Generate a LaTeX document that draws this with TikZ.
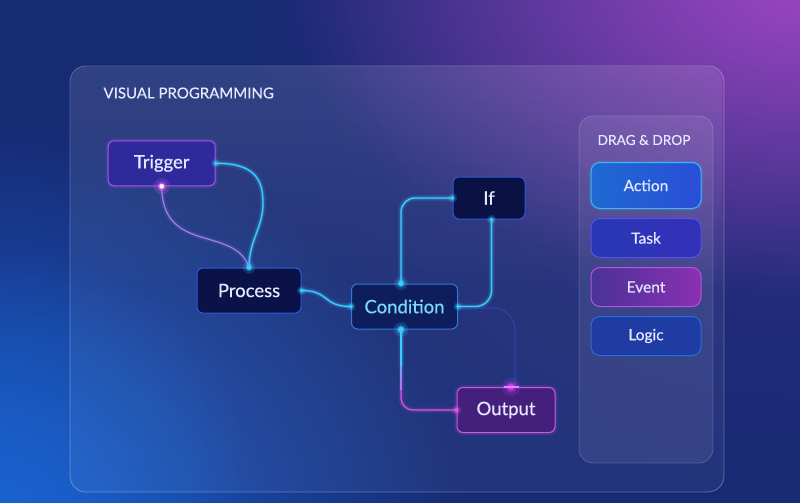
\documentclass[tikz,border=0pt]{standalone}
\usepackage{fontspec}
\setmainfont{Lato}
\newfontfamily\lblfont[FakeBold=0.5]{Lato}
\newfontfamily\sidefont[FakeBold=0.35]{Lato}
\usetikzlibrary{calc,fadings}
\tikzfading[name=glowfade, inner color=transparent!0, outer color=transparent!100]
\tikzfading[name=topfade, top color=transparent!0, bottom color=transparent!100]
\definecolor{bgbase}{HTML}{172A74}
\definecolor{bgpurple}{HTML}{A046C4}
\definecolor{bgblue}{HTML}{1A64D2}
\definecolor{cy}{HTML}{3CCBFF}
\definecolor{cyt}{HTML}{78D8FF}
\definecolor{lav}{HTML}{A47CF0}
\definecolor{mag}{HTML}{E052EA}
\definecolor{magglow}{HTML}{E060F0}
\definecolor{magglow2}{HTML}{C040F0}
\definecolor{maghl}{HTML}{F080FF}
\definecolor{txt}{HTML}{E6E8FF}
\definecolor{faintc}{HTML}{3448C0}
\definecolor{actl}{HTML}{1E6AD2}\definecolor{actr}{HTML}{2A4ED8}\definecolor{actd}{HTML}{38BAF2}
\definecolor{taskl}{HTML}{2838B4}\definecolor{taskr}{HTML}{3430B8}\definecolor{taskd}{HTML}{5A52E6}
\definecolor{evl}{HTML}{4A3298}\definecolor{evr}{HTML}{8A30B2}\definecolor{evd}{HTML}{B456D8}
\definecolor{logf}{HTML}{1E3CA2}\definecolor{logd}{HTML}{2A6CE0}
\definecolor{trf}{HTML}{2E2A9C}\definecolor{trd}{HTML}{A058EA}
\definecolor{prf}{HTML}{0A1248}\definecolor{prd}{HTML}{2F5BD8}
\definecolor{cof}{HTML}{0E1D5C}\definecolor{cod}{HTML}{2E7AD8}
\definecolor{iff}{HTML}{0A1244}\definecolor{ifd}{HTML}{2E5AD0}
\definecolor{ouf}{HTML}{44207C}\definecolor{oud}{HTML}{D454E6}
\tikzset{
  box/.style={rectangle, rounded corners=6pt, minimum height=45pt, inner sep=0pt,
    text=txt, font=\lblfont\fontsize{18.5}{20}\selectfont, line width=1pt},
  side/.style={rectangle, rounded corners=9pt, minimum width=110pt, minimum height=39pt,
    inner sep=0pt, text=txt, font=\sidefont\fontsize{15.5}{17}\selectfont, line width=1pt},
  cline/.style={draw=cy, line width=1.3pt,
    preaction={draw=cy, line width=6pt, draw opacity=0.12},
    preaction={draw=cy, line width=3pt, draw opacity=0.25}},
  lline/.style={draw=lav, line width=1.2pt,
    preaction={draw=lav, line width=5pt, draw opacity=0.12}},
  mline/.style={draw=mag, line width=1.2pt,
    preaction={draw=mag, line width=5pt, draw opacity=0.15}},
  fline/.style={draw=faintc, line width=1pt, draw opacity=0.75},
}
\newcommand\glowdot[3]{%
  \fill[#1, opacity=0.18] (#3) circle (#2*2.6);
  \fill[#1, opacity=0.35] (#3) circle (#2*1.6);
  \fill[#1] (#3) circle (#2);}
\begin{document}
\begin{tikzpicture}[x=1pt,y=-1pt]
\useasboundingbox (0,0) rectangle (800,503);
\clip (0,0) rectangle (800,503);
% background
\fill[bgbase] (0,0) rectangle (800,503);
\fill[bgpurple, opacity=0.2, path fading=glowfade] (800,-60) circle (560);
\fill[bgpurple, path fading=glowfade] (820,-20) ellipse (540 and 320);
\fill[bgblue, path fading=glowfade] (-30,540) ellipse (500 and 420);
\fill[bgblue, opacity=0.7, path fading=glowfade] (0,503) circle (260);
% main panel
\node[rectangle, rounded corners=16pt, minimum width=654pt, minimum height=426pt,
  fill=white, fill opacity=0.05, draw=white, draw opacity=0.3, line width=0.8pt]
  (panel) at (397,279) {};
\fill[white, opacity=0.07, path fading=topfade, rounded corners=16pt] (71,67) rectangle (723,300);
\node[anchor=west, text=txt, font=\sidefont\fontsize{15}{17}\selectfont] (title) at (100,93) {VISUAL PROGRAMMING};
% side panel
\node[rectangle, rounded corners=14pt, minimum width=134pt, minimum height=347pt,
  fill=white, fill opacity=0.08, draw=white, draw opacity=0.18, line width=0.8pt]
  (sidepanel) at (646,289.5) {};
\node[text=txt, font=\sidefont\fontsize{13.7}{15}\selectfont] (dd) at (644,140) {DRAG \& DROP};
\node[side, minimum height=46pt, left color=actl, right color=actr, draw=actd,
  preaction={draw=actd, line width=4pt, draw opacity=0.15}] (action) at (646,185.5) {Action};
\node[side, left color=taskl, right color=taskr, draw=taskd] (task) at (646,238) {Task};
\node[side, left color=evl, right color=evr, draw=evd] (event) at (646,287) {Event};
\node[side, fill=logf, draw=logd] (logic) at (646,336) {Logic};
% flow nodes
\node[box, minimum width=107pt, fill=trf, draw=trd,
  preaction={draw=trd, line width=5pt, draw opacity=0.15}] (trigger) at (161.7,163.3) {Trigger};
\node[box, minimum width=104pt, fill=prf, draw=prd] (process) at (249,290.5) {Process};
\node[box, minimum width=106pt, fill=cof, draw=cod, text=cyt] (condition) at (404.5,306.5) {Condition};
\node[box, minimum width=72pt, minimum height=42pt, fill=iff, draw=ifd] (if) at (489,198) {If};
\node[box, minimum width=98pt, fill=ouf, draw=oud,
  preaction={draw=oud, line width=5pt, draw opacity=0.15}] (output) at (506,410) {Output};
% connectors
\coordinate (tr1) at (263,203);
\draw[cline] (trigger.east) .. controls (255,163) and (263,180) .. (tr1)
  .. controls (263,228) and (249,240) .. (process.north);
\draw[lline] (trigger.south) .. controls (162,255) and (235,225) .. (process.north);
\draw[cline] (process.east) .. controls (330,290.5) and (322,306.5) .. (condition.west);
\draw[cline, rounded corners=14pt] ($(condition.north)+(-3.5,0)$) |- (if.west);
\draw[cline, rounded corners=16pt] ($(if.south)+(2.5,0)$) |- (condition.east);
\draw[fline, rounded corners=22pt] ($(condition.east)+(0,1.5)$) -| ($(output.north)+(9,0)$);
\coordinate (c0) at ($(condition.south)+(-3.5,0)$);
\coordinate (c1) at ($(c0)+(0,36)$);
\coordinate (c2) at ($(c0)+(0,48)$);
\coordinate (c3) at ($(c0)+(0,60)$);
\draw[cline] (c0) -- (c1);
\draw[draw=cy!60!mag, line width=1.25pt, preaction={draw=cy!60!mag, line width=5pt, draw opacity=0.13}] (c1) -- (c2);
\draw[draw=cy!30!mag, line width=1.2pt, preaction={draw=cy!30!mag, line width=5pt, draw opacity=0.14}] (c2) -- (c3);
\draw[mline, rounded corners=12pt] (c3) |- (output.west);
% dots
\glowdot{cy}{1.8}{trigger.east}
\glowdot{magglow}{3.2}{trigger.south}
\fill[white] (trigger.south) circle (2.3);
\glowdot{cy}{2.4}{process.north}
\glowdot{cy}{1.8}{process.east}
\glowdot{cy}{1.8}{condition.west}
\glowdot{cy}{2.6}{c0 |- condition.north}
\glowdot{cy}{1.8}{if.west}
\glowdot{cy}{1.8}{$(if.south)+(2.5,0)$}
\glowdot{cy}{1.8}{condition.east}
\glowdot{cy}{2.8}{c0}
\glowdot{mag}{2}{output.west}
\glowdot{magglow2}{3.5}{$(output.north)+(5,0)$}
\draw[maghl, line width=1.5pt] ($(output.north)+(-2,0)$) -- ($(output.north)+(13,0)$);
\end{tikzpicture}
\end{document}
